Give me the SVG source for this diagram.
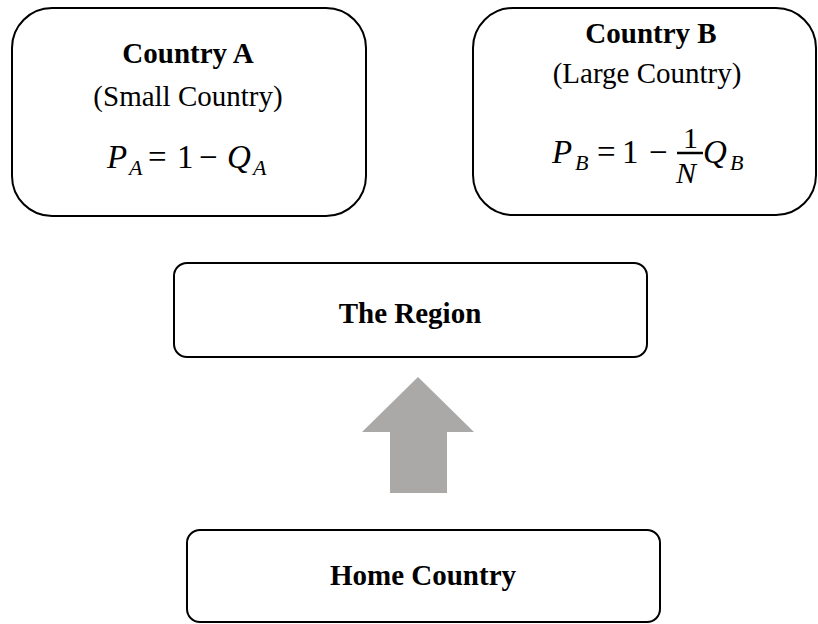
<svg xmlns="http://www.w3.org/2000/svg" width="818" height="624" viewBox="0 0 818 624">
<style>
.box{fill:#fff;stroke:#000;stroke-width:2}
.t{font-family:"Liberation Serif","Times New Roman",serif;font-size:29px;fill:#000;text-anchor:middle}
.b{font-weight:bold}
.m{font-family:"Liberation Serif","DejaVu Serif",serif;font-size:33px;fill:#000}
.f{font-size:30px}
.mi{font-style:italic}
.sub{font-size:22px;font-style:italic}
</style>
<rect width="818" height="624" fill="#fff"/>
<g id="connectors">
<polygon points="418,377 474,432 447,432 447,493 390,493 390,432 362,432" fill="#aba8a8"/>
</g>
<g id="countryA">
<rect class="box" x="12" y="8" width="354" height="208" rx="40" ry="40"/>
<text class="t b" x="188" y="63">Country A</text>
<text class="t" x="188" y="106">(Small Country)</text>
<text class="m" y="168"><tspan class="mi" x="107">P</tspan><tspan class="sub" x="129" y="175">A</tspan><tspan x="148" y="168">=</tspan><tspan x="177">1</tspan><tspan x="199">−</tspan><tspan class="mi" x="227">Q</tspan><tspan class="sub" x="253" y="175">A</tspan></text>
</g>
<g id="countryB">
<rect class="box" x="473" y="8" width="343" height="207" rx="40" ry="40"/>
<text class="t b" x="651" y="43">Country B</text>
<text class="t" x="647" y="83">(Large Country)</text>
<text class="m" y="163"><tspan class="mi" x="552">P</tspan><tspan class="sub" x="575" y="170">B</tspan><tspan x="597" y="163">=</tspan><tspan x="622">1</tspan><tspan x="649">−</tspan><tspan class="mi" x="703">Q</tspan><tspan class="sub" x="730" y="170">B</tspan></text>
<text class="m f" x="683" y="148">1</text>
<line x1="677" y1="153" x2="703" y2="153" stroke="#000" stroke-width="2.5"/>
<text class="m f mi" x="676" y="183">N</text>
</g>
<g id="region">
<rect class="box" x="174" y="263" width="473" height="94" rx="13" ry="13"/>
<text class="t b" x="410" y="323">The Region</text>
</g>
<g id="home">
<rect class="box" x="187" y="530" width="473" height="92" rx="13" ry="13"/>
<text class="t b" x="423" y="585">Home Country</text>
</g>
</svg>
